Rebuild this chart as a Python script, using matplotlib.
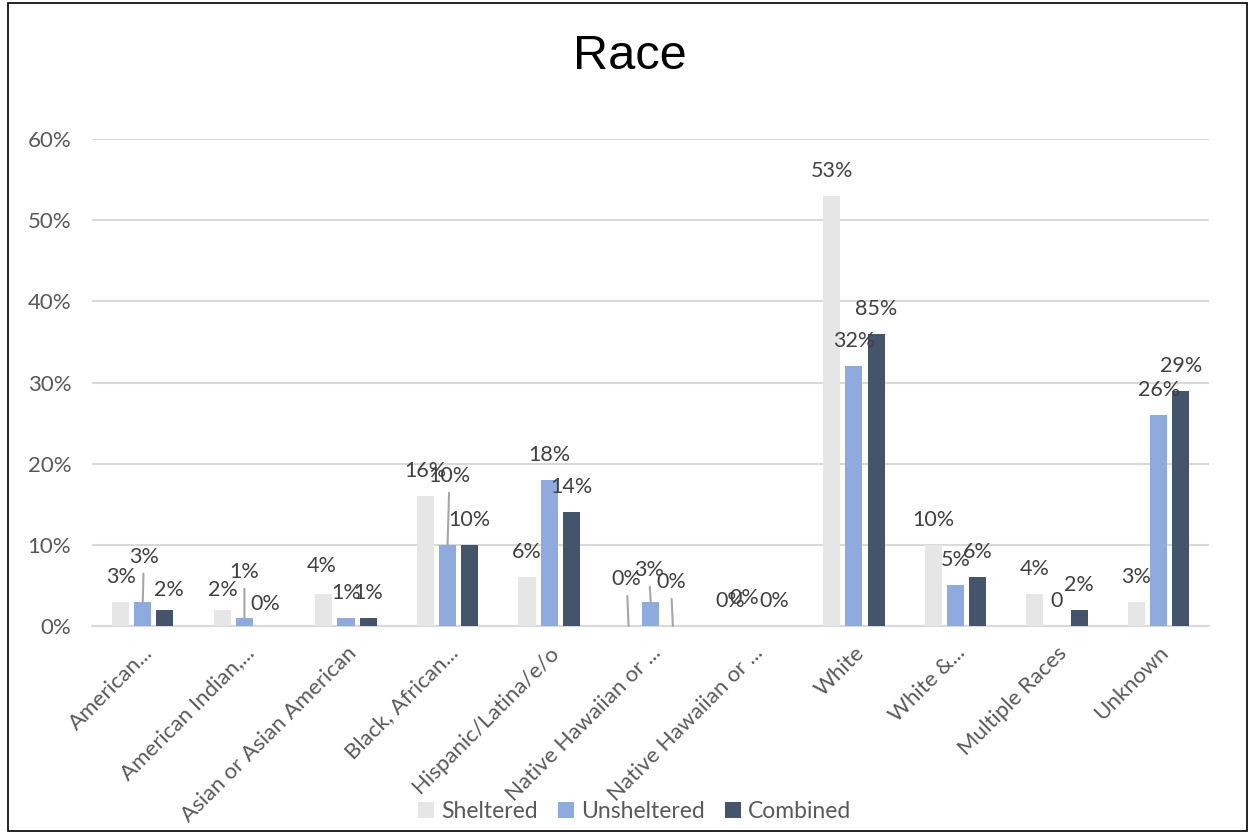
import numpy as np
import matplotlib.pyplot as plt
from matplotlib.patches import Rectangle
from matplotlib.ticker import PercentFormatter

categories = ["American...", "American Indian,...", "Asian or Asian American",
              "Black, African...", "Hispanic/Latina/e/o", "Native Hawaiian or ...",
              "Native Hawaiian or ...", "White", "White &...", "Multiple Races", "Unknown"]

sheltered = [3, 2, 4, 16, 6, 0, 0, 53, 10, 4, 3]
unsheltered = [3, 1, 1, 10, 18, 3, 0, 32, 5, 0, 26]
combined = [2, 0, 1, 10, 14, 0, 0, 36, 6, 2, 29]

sheltered_labels = ["3%", "2%", "4%", "16%", "6%", "0%", "0%", "53%", "10%", "4%", "3%"]
unsheltered_labels = ["3%", "1%", "1%", "10%", "18%", "3%", "0%", "32%", "5%", "0", "26%"]
combined_labels = ["2%", "0%", "1%", "10%", "14%", "0%", "0%", "85%", "6%", "2%", "29%"]

series_names = ["Sheltered", "Unsheltered", "Combined"]
colors = ["#e7e6e6", "#8faadc", "#44546a"]

# label offsets in pixels from the bar top (default 0, 25); some have leader lines
offsets = {
    (1, 0): (1, 45), (2, 0): (4, 20),
    (0, 1): (1, 20), (1, 1): (0, 46), (2, 1): (-1, 22),
    (0, 2): (-2, 28),
    (1, 3): (2, 69),
    (0, 5): (-2, 47), (1, 5): (-2, 32), (2, 5): (-2, 44),
    (1, 6): (-8, 28),
}
leaders = {(1, 0), (1, 1), (1, 3), (0, 5), (1, 5), (2, 5)}

plt.rcParams['font.family'] = ['Lato', 'DejaVu Sans']

fig = plt.figure(figsize=(12.52, 8.34), dpi=100)
ax = fig.add_axes([0.0735, 0.2494, 0.8925, 0.5839])

x = np.arange(len(categories))
step = 0.218
width = 0.168
all_vals = [sheltered, unsheltered, combined]
all_labels = [sheltered_labels, unsheltered_labels, combined_labels]

for s, (vals, labs) in enumerate(zip(all_vals, all_labels)):
    pos = x + (s - 1) * step
    v = np.array(vals) / 100
    ax.bar(pos, v, width=width, color=colors[s], label=series_names[s], zorder=3)
    for i in range(len(categories)):
        dx, dy = offsets.get((s, i), (0, 25))
        kw = {}
        if (s, i) in leaders:
            kw['arrowprops'] = dict(arrowstyle='-', color='#a6a6a6', lw=1.5,
                                    shrinkA=3, shrinkB=0)
        ax.annotate(labs[i], xy=(pos[i], v[i]), xytext=(dx, dy),
                    textcoords='offset pixels', ha='center', va='center',
                    fontsize=15.5, color='#404040', zorder=4, **kw)

ax.set_xlim(-0.5, len(categories) - 0.5)
ax.set_ylim(0, 0.6)
ax.set_yticks(np.arange(0, 0.61, 0.1))
ax.yaxis.set_major_formatter(PercentFormatter(1.0, decimals=0))
ax.grid(axis='y', color='#d9d9d9', lw=1.5, zorder=0)
for sp in ['top', 'right', 'left']:
    ax.spines[sp].set_visible(False)
ax.spines['bottom'].set_color('#d9d9d9')
ax.spines['bottom'].set_linewidth(1.5)
ax.tick_params(axis='both', length=0, labelsize=16, colors='#595959')
ax.tick_params(axis='y', pad=15)
ax.tick_params(axis='x', pad=12)
ax.set_xticks(x)
ax.set_xticklabels(categories, rotation=45, ha='right', rotation_mode='anchor')

fig.text(0.503, 0.932, "Race", ha='center', va='center', fontsize=35,
         family=['Liberation Sans', 'DejaVu Sans'], color='black')

fig.legend(loc='center', bbox_to_anchor=(0.507, 0.027), ncol=3, frameon=False,
           fontsize=16.5, handlelength=0.7, handleheight=0.7, handletextpad=0.3,
           columnspacing=0.9, labelcolor='#595959')

fig.patches.append(Rectangle((0.006, 0.004), 0.99, 0.992, transform=fig.transFigure,
                             fill=False, edgecolor='black', lw=1.2))

plt.savefig("out.png", dpi=100)
